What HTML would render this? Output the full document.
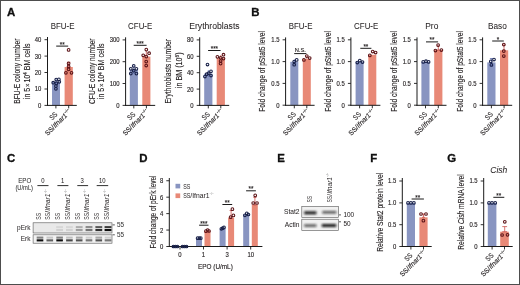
<!DOCTYPE html>
<html lang="en"><head><meta charset="utf-8"><title>Figure</title><style>html,body{margin:0;padding:0;background:#fff}svg{display:block}</style></head><body>
<svg width="520" height="285" viewBox="0 0 520 285" font-family="'Liberation Sans', sans-serif">
<rect x="0.00" y="0.00" width="520.00" height="285.00" fill="#ffffff"/>
<text transform="translate(7.00,16.00) scale(1.06,1)" font-size="10.8" text-anchor="start" fill="#111" stroke="#111" stroke-width="0.3" font-weight="bold">A</text>
<text transform="translate(251.30,16.00) scale(1.06,1)" font-size="10.8" text-anchor="start" fill="#111" stroke="#111" stroke-width="0.3" font-weight="bold">B</text>
<text transform="translate(7.00,161.70) scale(1.06,1)" font-size="10.8" text-anchor="start" fill="#111" stroke="#111" stroke-width="0.3" font-weight="bold">C</text>
<text transform="translate(139.30,161.70) scale(1.06,1)" font-size="10.8" text-anchor="start" fill="#111" stroke="#111" stroke-width="0.3" font-weight="bold">D</text>
<text transform="translate(277.30,161.70) scale(1.06,1)" font-size="10.8" text-anchor="start" fill="#111" stroke="#111" stroke-width="0.3" font-weight="bold">E</text>
<text transform="translate(370.20,161.70) scale(1.06,1)" font-size="10.8" text-anchor="start" fill="#111" stroke="#111" stroke-width="0.3" font-weight="bold">F</text>
<text transform="translate(447.20,162.00) scale(1.06,1)" font-size="10.8" text-anchor="start" fill="#111" stroke="#111" stroke-width="0.3" font-weight="bold">G</text>
<rect x="52.00" y="81.60" width="8.00" height="23.80" fill="#8995c1"/>
<rect x="64.60" y="67.00" width="8.20" height="38.40" fill="#e88977"/>
<line x1="56.00" y1="78.50" x2="56.00" y2="84.50" stroke="#5f6fae" stroke-width="0.8"/>
<line x1="56.00" y1="78.50" x2="56.00" y2="78.50" stroke="#5f6fae" stroke-width="0.8"/>
<line x1="68.70" y1="62.30" x2="68.70" y2="67.00" stroke="#c9524b" stroke-width="0.8"/>
<line x1="67.00" y1="62.30" x2="70.40" y2="62.30" stroke="#c9524b" stroke-width="0.8"/>
<line x1="67.00" y1="67.00" x2="70.40" y2="67.00" stroke="#c9524b" stroke-width="0.8"/>
<line x1="47.50" y1="37.00" x2="47.50" y2="105.90" stroke="#1a1a1a" stroke-width="1"/>
<line x1="47.00" y1="105.40" x2="76.80" y2="105.40" stroke="#1a1a1a" stroke-width="1"/>
<line x1="44.50" y1="39.70" x2="47.50" y2="39.70" stroke="#1a1a1a" stroke-width="0.9"/>
<text transform="translate(41.40,42.15) scale(0.87,1)" font-size="6.8" text-anchor="end" fill="#231f20" stroke="#231f20" stroke-width="0.14">40</text>
<line x1="44.50" y1="56.10" x2="47.50" y2="56.10" stroke="#1a1a1a" stroke-width="0.9"/>
<text transform="translate(41.40,58.55) scale(0.87,1)" font-size="6.8" text-anchor="end" fill="#231f20" stroke="#231f20" stroke-width="0.14">30</text>
<line x1="44.50" y1="72.50" x2="47.50" y2="72.50" stroke="#1a1a1a" stroke-width="0.9"/>
<text transform="translate(41.40,74.95) scale(0.87,1)" font-size="6.8" text-anchor="end" fill="#231f20" stroke="#231f20" stroke-width="0.14">20</text>
<line x1="44.50" y1="89.00" x2="47.50" y2="89.00" stroke="#1a1a1a" stroke-width="0.9"/>
<text transform="translate(41.40,91.45) scale(0.87,1)" font-size="6.8" text-anchor="end" fill="#231f20" stroke="#231f20" stroke-width="0.14">10</text>
<line x1="44.50" y1="105.40" x2="47.50" y2="105.40" stroke="#1a1a1a" stroke-width="0.9"/>
<text transform="translate(41.40,107.85) scale(0.87,1)" font-size="6.8" text-anchor="end" fill="#231f20" stroke="#231f20" stroke-width="0.14">0</text>
<line x1="55.90" y1="105.40" x2="55.90" y2="108.40" stroke="#1a1a1a" stroke-width="0.9"/>
<line x1="68.70" y1="105.40" x2="68.70" y2="108.40" stroke="#1a1a1a" stroke-width="0.9"/>
<circle cx="56.20" cy="79.60" r="1.35" fill="none" stroke="#182048" stroke-width="1.05"/>
<circle cx="58.90" cy="79.40" r="1.35" fill="none" stroke="#182048" stroke-width="1.05"/>
<circle cx="53.20" cy="82.70" r="1.35" fill="none" stroke="#182048" stroke-width="1.05"/>
<circle cx="59.30" cy="81.80" r="1.35" fill="none" stroke="#182048" stroke-width="1.05"/>
<circle cx="56.30" cy="83.40" r="1.35" fill="none" stroke="#182048" stroke-width="1.05"/>
<circle cx="55.90" cy="86.10" r="1.35" fill="none" stroke="#182048" stroke-width="1.05"/>
<circle cx="55.90" cy="88.80" r="1.35" fill="none" stroke="#182048" stroke-width="1.05"/>
<circle cx="68.60" cy="49.90" r="1.35" fill="none" stroke="#5c1418" stroke-width="1.05"/>
<circle cx="68.60" cy="63.40" r="1.35" fill="none" stroke="#5c1418" stroke-width="1.05"/>
<circle cx="68.60" cy="66.40" r="1.35" fill="none" stroke="#5c1418" stroke-width="1.05"/>
<circle cx="65.90" cy="72.80" r="1.35" fill="none" stroke="#5c1418" stroke-width="1.05"/>
<circle cx="71.50" cy="72.80" r="1.35" fill="none" stroke="#5c1418" stroke-width="1.05"/>
<circle cx="68.60" cy="69.30" r="1.35" fill="none" stroke="#5c1418" stroke-width="1.05"/>
<line x1="56.20" y1="46.10" x2="68.20" y2="46.10" stroke="#1a1a1a" stroke-width="1"/>
<text transform="translate(62.20,46.60) scale(0.9,1)" font-size="7" text-anchor="middle" fill="#231f20" stroke="#231f20" stroke-width="0.14">**</text>
<text transform="translate(62.60,28.50) scale(0.96,1)" font-size="8.25" text-anchor="middle" fill="#231f20" stroke="#231f20" stroke-width="0.04">BFU-E</text>
<text transform="translate(19.90,71.20) rotate(-90) scale(0.7632183908045977,1)" font-size="8.7" text-anchor="middle" fill="#231f20" stroke="#231f20" stroke-width="0.14">BFU-E colony number</text>
<text transform="translate(29.50,71.30) rotate(-90) scale(0.8137931034482759,1)" font-size="8.7" text-anchor="middle" fill="#231f20" stroke="#231f20" stroke-width="0.14">in 5<tspan font-size="85%" dx="1">×</tspan><tspan dx="1">10</tspan><tspan font-size="65%" dy="-2.8">4</tspan><tspan dy="2.8"> BM cells</tspan></text>
<text transform="translate(57.90,114.80) rotate(-45) scale(0.87,1)" font-size="7" text-anchor="end" fill="#231f20" stroke="#231f20" stroke-width="0.14">SS</text>
<text transform="translate(71.50,112.20) rotate(-45) scale(0.97,1)" font-size="7" text-anchor="end" fill="#231f20" stroke="#231f20" stroke-width="0.14">SS/<tspan font-style="italic">Ifnar1</tspan><tspan font-size="55%" dy="-3" fill="#222">−/−</tspan></text>
<rect x="129.80" y="69.70" width="8.10" height="35.70" fill="#8995c1"/>
<rect x="142.30" y="56.60" width="8.10" height="48.80" fill="#e88977"/>
<line x1="133.80" y1="65.50" x2="133.80" y2="74.00" stroke="#5f6fae" stroke-width="0.8"/>
<line x1="133.80" y1="65.50" x2="133.80" y2="65.50" stroke="#5f6fae" stroke-width="0.8"/>
<line x1="146.30" y1="51.00" x2="146.30" y2="56.60" stroke="#c9524b" stroke-width="0.8"/>
<line x1="146.30" y1="51.00" x2="146.30" y2="51.00" stroke="#c9524b" stroke-width="0.8"/>
<line x1="125.60" y1="37.30" x2="125.60" y2="105.90" stroke="#1a1a1a" stroke-width="1"/>
<line x1="125.10" y1="105.40" x2="155.20" y2="105.40" stroke="#1a1a1a" stroke-width="1"/>
<line x1="122.60" y1="39.90" x2="125.60" y2="39.90" stroke="#1a1a1a" stroke-width="0.9"/>
<text transform="translate(119.50,42.35) scale(0.87,1)" font-size="6.8" text-anchor="end" fill="#231f20" stroke="#231f20" stroke-width="0.14">300</text>
<line x1="122.60" y1="61.70" x2="125.60" y2="61.70" stroke="#1a1a1a" stroke-width="0.9"/>
<text transform="translate(119.50,64.15) scale(0.87,1)" font-size="6.8" text-anchor="end" fill="#231f20" stroke="#231f20" stroke-width="0.14">200</text>
<line x1="122.60" y1="83.50" x2="125.60" y2="83.50" stroke="#1a1a1a" stroke-width="0.9"/>
<text transform="translate(119.50,85.95) scale(0.87,1)" font-size="6.8" text-anchor="end" fill="#231f20" stroke="#231f20" stroke-width="0.14">100</text>
<line x1="122.60" y1="105.40" x2="125.60" y2="105.40" stroke="#1a1a1a" stroke-width="0.9"/>
<text transform="translate(119.50,107.85) scale(0.87,1)" font-size="6.8" text-anchor="end" fill="#231f20" stroke="#231f20" stroke-width="0.14">0</text>
<line x1="133.80" y1="105.40" x2="133.80" y2="108.40" stroke="#1a1a1a" stroke-width="0.9"/>
<line x1="146.40" y1="105.40" x2="146.40" y2="108.40" stroke="#1a1a1a" stroke-width="0.9"/>
<circle cx="130.80" cy="68.80" r="1.35" fill="none" stroke="#182048" stroke-width="1.05"/>
<circle cx="136.40" cy="68.80" r="1.35" fill="none" stroke="#182048" stroke-width="1.05"/>
<circle cx="133.70" cy="65.90" r="1.35" fill="none" stroke="#182048" stroke-width="1.05"/>
<circle cx="130.80" cy="73.60" r="1.35" fill="none" stroke="#182048" stroke-width="1.05"/>
<circle cx="136.40" cy="73.60" r="1.35" fill="none" stroke="#182048" stroke-width="1.05"/>
<circle cx="133.70" cy="70.70" r="1.35" fill="none" stroke="#182048" stroke-width="1.05"/>
<circle cx="146.30" cy="49.60" r="1.35" fill="none" stroke="#5c1418" stroke-width="1.05"/>
<circle cx="149.10" cy="53.20" r="1.35" fill="none" stroke="#5c1418" stroke-width="1.05"/>
<circle cx="143.20" cy="55.30" r="1.35" fill="none" stroke="#5c1418" stroke-width="1.05"/>
<circle cx="146.30" cy="56.60" r="1.35" fill="none" stroke="#5c1418" stroke-width="1.05"/>
<circle cx="146.20" cy="61.60" r="1.35" fill="none" stroke="#5c1418" stroke-width="1.05"/>
<circle cx="146.20" cy="65.50" r="1.35" fill="none" stroke="#5c1418" stroke-width="1.05"/>
<line x1="133.70" y1="45.30" x2="146.60" y2="45.30" stroke="#1a1a1a" stroke-width="1"/>
<text transform="translate(140.15,45.80) scale(0.9,1)" font-size="7" text-anchor="middle" fill="#231f20" stroke="#231f20" stroke-width="0.14">***</text>
<text transform="translate(140.20,28.50) scale(0.96,1)" font-size="8.25" text-anchor="middle" fill="#231f20" stroke="#231f20" stroke-width="0.04">CFU-E</text>
<text transform="translate(94.70,71.20) rotate(-90) scale(0.7632183908045977,1)" font-size="8.7" text-anchor="middle" fill="#231f20" stroke="#231f20" stroke-width="0.14">CFU-E colony number</text>
<text transform="translate(104.30,71.30) rotate(-90) scale(0.8137931034482759,1)" font-size="8.7" text-anchor="middle" fill="#231f20" stroke="#231f20" stroke-width="0.14">in 5<tspan font-size="85%" dx="1">×</tspan><tspan dx="1">10</tspan><tspan font-size="65%" dy="-2.8">4</tspan><tspan dy="2.8"> BM cells</tspan></text>
<text transform="translate(135.80,114.80) rotate(-45) scale(0.87,1)" font-size="7" text-anchor="end" fill="#231f20" stroke="#231f20" stroke-width="0.14">SS</text>
<text transform="translate(149.20,112.20) rotate(-45) scale(0.97,1)" font-size="7" text-anchor="end" fill="#231f20" stroke="#231f20" stroke-width="0.14">SS/<tspan font-style="italic">Ifnar1</tspan><tspan font-size="55%" dy="-3" fill="#222">−/−</tspan></text>
<rect x="204.20" y="73.60" width="8.20" height="31.80" fill="#8995c1"/>
<rect x="216.70" y="58.20" width="8.20" height="47.20" fill="#e88977"/>
<line x1="208.30" y1="70.00" x2="208.30" y2="77.00" stroke="#5f6fae" stroke-width="0.8"/>
<line x1="208.30" y1="70.00" x2="208.30" y2="70.00" stroke="#5f6fae" stroke-width="0.8"/>
<line x1="220.80" y1="55.00" x2="220.80" y2="58.20" stroke="#c9524b" stroke-width="0.8"/>
<line x1="220.80" y1="55.00" x2="220.80" y2="55.00" stroke="#c9524b" stroke-width="0.8"/>
<line x1="199.70" y1="37.30" x2="199.70" y2="105.90" stroke="#1a1a1a" stroke-width="1"/>
<line x1="199.20" y1="105.40" x2="229.20" y2="105.40" stroke="#1a1a1a" stroke-width="1"/>
<line x1="196.70" y1="39.90" x2="199.70" y2="39.90" stroke="#1a1a1a" stroke-width="0.9"/>
<text transform="translate(193.60,42.35) scale(0.87,1)" font-size="6.8" text-anchor="end" fill="#231f20" stroke="#231f20" stroke-width="0.14">80</text>
<line x1="196.70" y1="56.30" x2="199.70" y2="56.30" stroke="#1a1a1a" stroke-width="0.9"/>
<text transform="translate(193.60,58.75) scale(0.87,1)" font-size="6.8" text-anchor="end" fill="#231f20" stroke="#231f20" stroke-width="0.14">60</text>
<line x1="196.70" y1="72.70" x2="199.70" y2="72.70" stroke="#1a1a1a" stroke-width="0.9"/>
<text transform="translate(193.60,75.15) scale(0.87,1)" font-size="6.8" text-anchor="end" fill="#231f20" stroke="#231f20" stroke-width="0.14">40</text>
<line x1="196.70" y1="89.10" x2="199.70" y2="89.10" stroke="#1a1a1a" stroke-width="0.9"/>
<text transform="translate(193.60,91.55) scale(0.87,1)" font-size="6.8" text-anchor="end" fill="#231f20" stroke="#231f20" stroke-width="0.14">20</text>
<line x1="196.70" y1="105.40" x2="199.70" y2="105.40" stroke="#1a1a1a" stroke-width="0.9"/>
<text transform="translate(193.60,107.85) scale(0.87,1)" font-size="6.8" text-anchor="end" fill="#231f20" stroke="#231f20" stroke-width="0.14">0</text>
<line x1="208.30" y1="105.40" x2="208.30" y2="108.40" stroke="#1a1a1a" stroke-width="0.9"/>
<line x1="220.80" y1="105.40" x2="220.80" y2="108.40" stroke="#1a1a1a" stroke-width="0.9"/>
<circle cx="207.50" cy="64.50" r="1.35" fill="none" stroke="#182048" stroke-width="1.05"/>
<circle cx="211.00" cy="71.30" r="1.35" fill="none" stroke="#182048" stroke-width="1.05"/>
<circle cx="206.70" cy="74.20" r="1.35" fill="none" stroke="#182048" stroke-width="1.05"/>
<circle cx="204.90" cy="76.50" r="1.35" fill="none" stroke="#182048" stroke-width="1.05"/>
<circle cx="211.00" cy="75.50" r="1.35" fill="none" stroke="#182048" stroke-width="1.05"/>
<circle cx="208.70" cy="73.20" r="1.35" fill="none" stroke="#182048" stroke-width="1.05"/>
<circle cx="223.50" cy="54.70" r="1.35" fill="none" stroke="#5c1418" stroke-width="1.05"/>
<circle cx="217.40" cy="56.80" r="1.35" fill="none" stroke="#5c1418" stroke-width="1.05"/>
<circle cx="220.60" cy="57.80" r="1.35" fill="none" stroke="#5c1418" stroke-width="1.05"/>
<circle cx="223.50" cy="58.60" r="1.35" fill="none" stroke="#5c1418" stroke-width="1.05"/>
<circle cx="220.60" cy="61.00" r="1.35" fill="none" stroke="#5c1418" stroke-width="1.05"/>
<circle cx="220.60" cy="63.60" r="1.35" fill="none" stroke="#5c1418" stroke-width="1.05"/>
<line x1="208.10" y1="50.50" x2="220.60" y2="50.50" stroke="#1a1a1a" stroke-width="1"/>
<text transform="translate(214.35,51.00) scale(0.9,1)" font-size="7" text-anchor="middle" fill="#231f20" stroke="#231f20" stroke-width="0.14">***</text>
<text transform="translate(214.40,28.50) scale(1.05,1)" font-size="8.25" text-anchor="middle" fill="#231f20" stroke="#231f20" stroke-width="0.04">Erythroblasts</text>
<text transform="translate(171.30,71.20) rotate(-90) scale(0.7816091954022989,1)" font-size="8.7" text-anchor="middle" fill="#231f20" stroke="#231f20" stroke-width="0.14">Erythroblasts number</text>
<text transform="translate(181.50,70.30) rotate(-90) scale(0.8275862068965518,1)" font-size="8.7" text-anchor="middle" fill="#231f20" stroke="#231f20" stroke-width="0.14">in BM (10<tspan font-size="65%" dy="-2.8">6</tspan><tspan dy="2.8">)</tspan></text>
<text transform="translate(210.30,114.80) rotate(-45) scale(0.87,1)" font-size="7" text-anchor="end" fill="#231f20" stroke="#231f20" stroke-width="0.14">SS</text>
<text transform="translate(223.60,112.20) rotate(-45) scale(0.97,1)" font-size="7" text-anchor="end" fill="#231f20" stroke="#231f20" stroke-width="0.14">SS/<tspan font-style="italic">Ifnar1</tspan><tspan font-size="55%" dy="-3" fill="#222">−/−</tspan></text>
<rect x="290.30" y="61.80" width="8.00" height="43.50" fill="#8995c1"/>
<rect x="302.80" y="59.00" width="8.00" height="46.30" fill="#e88977"/>
<line x1="294.40" y1="59.50" x2="294.40" y2="64.50" stroke="#5f6fae" stroke-width="0.8"/>
<line x1="294.40" y1="59.50" x2="294.40" y2="59.50" stroke="#5f6fae" stroke-width="0.8"/>
<line x1="306.90" y1="56.50" x2="306.90" y2="59.00" stroke="#c9524b" stroke-width="0.8"/>
<line x1="306.90" y1="56.50" x2="306.90" y2="56.50" stroke="#c9524b" stroke-width="0.8"/>
<line x1="285.60" y1="37.40" x2="285.60" y2="105.80" stroke="#1a1a1a" stroke-width="1"/>
<line x1="285.10" y1="105.30" x2="314.60" y2="105.30" stroke="#1a1a1a" stroke-width="1"/>
<line x1="282.60" y1="39.80" x2="285.60" y2="39.80" stroke="#1a1a1a" stroke-width="0.9"/>
<text transform="translate(279.50,42.25) scale(0.87,1)" font-size="6.8" text-anchor="end" fill="#231f20" stroke="#231f20" stroke-width="0.14">1.5</text>
<line x1="282.60" y1="61.60" x2="285.60" y2="61.60" stroke="#1a1a1a" stroke-width="0.9"/>
<text transform="translate(279.50,64.05) scale(0.87,1)" font-size="6.8" text-anchor="end" fill="#231f20" stroke="#231f20" stroke-width="0.14">1.0</text>
<line x1="282.60" y1="83.40" x2="285.60" y2="83.40" stroke="#1a1a1a" stroke-width="0.9"/>
<text transform="translate(279.50,85.85) scale(0.87,1)" font-size="6.8" text-anchor="end" fill="#231f20" stroke="#231f20" stroke-width="0.14">0.5</text>
<line x1="282.60" y1="105.20" x2="285.60" y2="105.20" stroke="#1a1a1a" stroke-width="0.9"/>
<text transform="translate(279.50,107.65) scale(0.87,1)" font-size="6.8" text-anchor="end" fill="#231f20" stroke="#231f20" stroke-width="0.14">0</text>
<line x1="294.30" y1="105.30" x2="294.30" y2="108.30" stroke="#1a1a1a" stroke-width="0.9"/>
<line x1="306.80" y1="105.30" x2="306.80" y2="108.30" stroke="#1a1a1a" stroke-width="0.9"/>
<circle cx="296.70" cy="59.90" r="1.35" fill="none" stroke="#182048" stroke-width="1.05"/>
<circle cx="294.20" cy="61.50" r="1.35" fill="none" stroke="#182048" stroke-width="1.05"/>
<circle cx="294.20" cy="64.70" r="1.35" fill="none" stroke="#182048" stroke-width="1.05"/>
<circle cx="306.80" cy="56.00" r="1.35" fill="none" stroke="#5c1418" stroke-width="1.05"/>
<circle cx="309.70" cy="58.00" r="1.35" fill="none" stroke="#5c1418" stroke-width="1.05"/>
<circle cx="303.90" cy="59.90" r="1.35" fill="none" stroke="#5c1418" stroke-width="1.05"/>
<line x1="294.20" y1="53.60" x2="306.40" y2="53.60" stroke="#1a1a1a" stroke-width="1"/>
<text transform="translate(300.30,52.00) scale(0.93,1)" font-size="6.2" text-anchor="middle" fill="#231f20" stroke="#231f20" stroke-width="0.14">N.S.</text>
<text transform="translate(300.60,28.50) scale(0.96,1)" font-size="8.25" text-anchor="middle" fill="#231f20" stroke="#231f20" stroke-width="0.04">BFU-E</text>
<text transform="translate(265.30,71.40) rotate(-90) scale(0.767816091954023,1)" font-size="8.7" text-anchor="middle" fill="#231f20" stroke="#231f20" stroke-width="0.14">Fold change of pStat5 level</text>
<text transform="translate(296.30,114.70) rotate(-45) scale(0.87,1)" font-size="7" text-anchor="end" fill="#231f20" stroke="#231f20" stroke-width="0.14">SS</text>
<text transform="translate(309.60,112.10) rotate(-45) scale(0.97,1)" font-size="7" text-anchor="end" fill="#231f20" stroke="#231f20" stroke-width="0.14">SS/<tspan font-style="italic">Ifnar1</tspan><tspan font-size="55%" dy="-3" fill="#222">−/−</tspan></text>
<rect x="355.60" y="61.80" width="8.00" height="43.50" fill="#8995c1"/>
<rect x="368.30" y="54.80" width="8.00" height="50.50" fill="#e88977"/>
<line x1="350.90" y1="37.40" x2="350.90" y2="105.80" stroke="#1a1a1a" stroke-width="1"/>
<line x1="350.40" y1="105.30" x2="380.40" y2="105.30" stroke="#1a1a1a" stroke-width="1"/>
<line x1="347.90" y1="39.80" x2="350.90" y2="39.80" stroke="#1a1a1a" stroke-width="0.9"/>
<text transform="translate(344.80,42.25) scale(0.87,1)" font-size="6.8" text-anchor="end" fill="#231f20" stroke="#231f20" stroke-width="0.14">1.5</text>
<line x1="347.90" y1="61.60" x2="350.90" y2="61.60" stroke="#1a1a1a" stroke-width="0.9"/>
<text transform="translate(344.80,64.05) scale(0.87,1)" font-size="6.8" text-anchor="end" fill="#231f20" stroke="#231f20" stroke-width="0.14">1.0</text>
<line x1="347.90" y1="83.40" x2="350.90" y2="83.40" stroke="#1a1a1a" stroke-width="0.9"/>
<text transform="translate(344.80,85.85) scale(0.87,1)" font-size="6.8" text-anchor="end" fill="#231f20" stroke="#231f20" stroke-width="0.14">0.5</text>
<line x1="347.90" y1="105.20" x2="350.90" y2="105.20" stroke="#1a1a1a" stroke-width="0.9"/>
<text transform="translate(344.80,107.65) scale(0.87,1)" font-size="6.8" text-anchor="end" fill="#231f20" stroke="#231f20" stroke-width="0.14">0</text>
<line x1="359.60" y1="105.30" x2="359.60" y2="108.30" stroke="#1a1a1a" stroke-width="0.9"/>
<line x1="372.30" y1="105.30" x2="372.30" y2="108.30" stroke="#1a1a1a" stroke-width="0.9"/>
<circle cx="359.80" cy="60.60" r="1.35" fill="none" stroke="#182048" stroke-width="1.05"/>
<circle cx="357.30" cy="62.50" r="1.35" fill="none" stroke="#182048" stroke-width="1.05"/>
<circle cx="362.50" cy="62.10" r="1.35" fill="none" stroke="#182048" stroke-width="1.05"/>
<circle cx="372.70" cy="51.50" r="1.35" fill="none" stroke="#5c1418" stroke-width="1.05"/>
<circle cx="375.60" cy="52.50" r="1.35" fill="none" stroke="#5c1418" stroke-width="1.05"/>
<circle cx="369.80" cy="55.40" r="1.35" fill="none" stroke="#5c1418" stroke-width="1.05"/>
<line x1="360.30" y1="48.30" x2="371.40" y2="48.30" stroke="#1a1a1a" stroke-width="1"/>
<text transform="translate(365.85,48.80) scale(0.9,1)" font-size="7" text-anchor="middle" fill="#231f20" stroke="#231f20" stroke-width="0.14">**</text>
<text transform="translate(366.20,28.50) scale(0.96,1)" font-size="8.25" text-anchor="middle" fill="#231f20" stroke="#231f20" stroke-width="0.04">CFU-E</text>
<text transform="translate(330.90,71.40) rotate(-90) scale(0.767816091954023,1)" font-size="8.7" text-anchor="middle" fill="#231f20" stroke="#231f20" stroke-width="0.14">Fold change of pStat5 level</text>
<text transform="translate(361.60,114.70) rotate(-45) scale(0.87,1)" font-size="7" text-anchor="end" fill="#231f20" stroke="#231f20" stroke-width="0.14">SS</text>
<text transform="translate(375.10,112.10) rotate(-45) scale(0.97,1)" font-size="7" text-anchor="end" fill="#231f20" stroke="#231f20" stroke-width="0.14">SS/<tspan font-style="italic">Ifnar1</tspan><tspan font-size="55%" dy="-3" fill="#222">−/−</tspan></text>
<rect x="421.40" y="61.80" width="8.10" height="43.50" fill="#8995c1"/>
<rect x="434.20" y="50.00" width="8.20" height="55.30" fill="#e88977"/>
<line x1="438.30" y1="46.00" x2="438.30" y2="50.00" stroke="#c9524b" stroke-width="0.8"/>
<line x1="436.80" y1="46.00" x2="439.80" y2="46.00" stroke="#c9524b" stroke-width="0.8"/>
<line x1="436.80" y1="50.00" x2="439.80" y2="50.00" stroke="#c9524b" stroke-width="0.8"/>
<line x1="417.00" y1="37.40" x2="417.00" y2="105.80" stroke="#1a1a1a" stroke-width="1"/>
<line x1="416.50" y1="105.30" x2="446.50" y2="105.30" stroke="#1a1a1a" stroke-width="1"/>
<line x1="414.00" y1="39.80" x2="417.00" y2="39.80" stroke="#1a1a1a" stroke-width="0.9"/>
<text transform="translate(410.90,42.25) scale(0.87,1)" font-size="6.8" text-anchor="end" fill="#231f20" stroke="#231f20" stroke-width="0.14">1.5</text>
<line x1="414.00" y1="61.60" x2="417.00" y2="61.60" stroke="#1a1a1a" stroke-width="0.9"/>
<text transform="translate(410.90,64.05) scale(0.87,1)" font-size="6.8" text-anchor="end" fill="#231f20" stroke="#231f20" stroke-width="0.14">1.0</text>
<line x1="414.00" y1="83.40" x2="417.00" y2="83.40" stroke="#1a1a1a" stroke-width="0.9"/>
<text transform="translate(410.90,85.85) scale(0.87,1)" font-size="6.8" text-anchor="end" fill="#231f20" stroke="#231f20" stroke-width="0.14">0.5</text>
<line x1="414.00" y1="105.20" x2="417.00" y2="105.20" stroke="#1a1a1a" stroke-width="0.9"/>
<text transform="translate(410.90,107.65) scale(0.87,1)" font-size="6.8" text-anchor="end" fill="#231f20" stroke="#231f20" stroke-width="0.14">0</text>
<line x1="425.50" y1="105.30" x2="425.50" y2="108.30" stroke="#1a1a1a" stroke-width="0.9"/>
<line x1="438.30" y1="105.30" x2="438.30" y2="108.30" stroke="#1a1a1a" stroke-width="0.9"/>
<circle cx="423.20" cy="61.90" r="1.35" fill="none" stroke="#182048" stroke-width="1.05"/>
<circle cx="426.00" cy="61.20" r="1.35" fill="none" stroke="#182048" stroke-width="1.05"/>
<circle cx="428.60" cy="61.90" r="1.35" fill="none" stroke="#182048" stroke-width="1.05"/>
<circle cx="438.10" cy="45.10" r="1.35" fill="none" stroke="#5c1418" stroke-width="1.05"/>
<circle cx="435.40" cy="50.50" r="1.35" fill="none" stroke="#5c1418" stroke-width="1.05"/>
<circle cx="441.40" cy="50.00" r="1.35" fill="none" stroke="#5c1418" stroke-width="1.05"/>
<line x1="426.00" y1="41.90" x2="438.10" y2="41.90" stroke="#1a1a1a" stroke-width="1"/>
<text transform="translate(432.05,42.40) scale(0.9,1)" font-size="7" text-anchor="middle" fill="#231f20" stroke="#231f20" stroke-width="0.14">**</text>
<text transform="translate(431.80,28.50) scale(1.02,1)" font-size="8.25" text-anchor="middle" fill="#231f20" stroke="#231f20" stroke-width="0.04">Pro</text>
<text transform="translate(397.00,71.40) rotate(-90) scale(0.767816091954023,1)" font-size="8.7" text-anchor="middle" fill="#231f20" stroke="#231f20" stroke-width="0.14">Fold change of pStat5 level</text>
<text transform="translate(427.50,114.70) rotate(-45) scale(0.87,1)" font-size="7" text-anchor="end" fill="#231f20" stroke="#231f20" stroke-width="0.14">SS</text>
<text transform="translate(441.10,112.10) rotate(-45) scale(0.97,1)" font-size="7" text-anchor="end" fill="#231f20" stroke="#231f20" stroke-width="0.14">SS/<tspan font-style="italic">Ifnar1</tspan><tspan font-size="55%" dy="-3" fill="#222">−/−</tspan></text>
<rect x="487.30" y="62.40" width="8.20" height="42.90" fill="#8995c1"/>
<rect x="500.00" y="50.30" width="8.20" height="55.00" fill="#e88977"/>
<line x1="491.40" y1="58.50" x2="491.40" y2="66.00" stroke="#5f6fae" stroke-width="0.8"/>
<line x1="489.90" y1="58.50" x2="492.90" y2="58.50" stroke="#5f6fae" stroke-width="0.8"/>
<line x1="489.90" y1="66.00" x2="492.90" y2="66.00" stroke="#5f6fae" stroke-width="0.8"/>
<line x1="504.00" y1="45.00" x2="504.00" y2="50.30" stroke="#c9524b" stroke-width="0.8"/>
<line x1="502.50" y1="45.00" x2="505.50" y2="45.00" stroke="#c9524b" stroke-width="0.8"/>
<line x1="502.50" y1="50.30" x2="505.50" y2="50.30" stroke="#c9524b" stroke-width="0.8"/>
<line x1="482.60" y1="37.40" x2="482.60" y2="105.80" stroke="#1a1a1a" stroke-width="1"/>
<line x1="482.10" y1="105.30" x2="512.20" y2="105.30" stroke="#1a1a1a" stroke-width="1"/>
<line x1="479.60" y1="39.80" x2="482.60" y2="39.80" stroke="#1a1a1a" stroke-width="0.9"/>
<text transform="translate(476.50,42.25) scale(0.87,1)" font-size="6.8" text-anchor="end" fill="#231f20" stroke="#231f20" stroke-width="0.14">1.5</text>
<line x1="479.60" y1="61.60" x2="482.60" y2="61.60" stroke="#1a1a1a" stroke-width="0.9"/>
<text transform="translate(476.50,64.05) scale(0.87,1)" font-size="6.8" text-anchor="end" fill="#231f20" stroke="#231f20" stroke-width="0.14">1.0</text>
<line x1="479.60" y1="83.40" x2="482.60" y2="83.40" stroke="#1a1a1a" stroke-width="0.9"/>
<text transform="translate(476.50,85.85) scale(0.87,1)" font-size="6.8" text-anchor="end" fill="#231f20" stroke="#231f20" stroke-width="0.14">0.5</text>
<line x1="479.60" y1="105.20" x2="482.60" y2="105.20" stroke="#1a1a1a" stroke-width="0.9"/>
<text transform="translate(476.50,107.65) scale(0.87,1)" font-size="6.8" text-anchor="end" fill="#231f20" stroke="#231f20" stroke-width="0.14">0</text>
<line x1="491.40" y1="105.30" x2="491.40" y2="108.30" stroke="#1a1a1a" stroke-width="0.9"/>
<line x1="504.10" y1="105.30" x2="504.10" y2="108.30" stroke="#1a1a1a" stroke-width="0.9"/>
<circle cx="494.00" cy="59.50" r="1.35" fill="none" stroke="#182048" stroke-width="1.05"/>
<circle cx="490.80" cy="61.40" r="1.35" fill="none" stroke="#182048" stroke-width="1.05"/>
<circle cx="491.40" cy="64.90" r="1.35" fill="none" stroke="#182048" stroke-width="1.05"/>
<circle cx="503.80" cy="44.60" r="1.35" fill="none" stroke="#5c1418" stroke-width="1.05"/>
<circle cx="503.80" cy="51.10" r="1.35" fill="none" stroke="#5c1418" stroke-width="1.05"/>
<circle cx="503.80" cy="56.00" r="1.35" fill="none" stroke="#5c1418" stroke-width="1.05"/>
<line x1="492.20" y1="41.00" x2="503.80" y2="41.00" stroke="#1a1a1a" stroke-width="1"/>
<text transform="translate(498.00,41.50) scale(0.9,1)" font-size="7" text-anchor="middle" fill="#231f20" stroke="#231f20" stroke-width="0.14">*</text>
<text transform="translate(497.40,28.50)" font-size="8.25" text-anchor="middle" fill="#231f20" stroke="#231f20" stroke-width="0.04">Baso</text>
<text transform="translate(463.20,71.40) rotate(-90) scale(0.767816091954023,1)" font-size="8.7" text-anchor="middle" fill="#231f20" stroke="#231f20" stroke-width="0.14">Fold change of pStat5 level</text>
<text transform="translate(493.40,114.70) rotate(-45) scale(0.87,1)" font-size="7" text-anchor="end" fill="#231f20" stroke="#231f20" stroke-width="0.14">SS</text>
<text transform="translate(506.90,112.10) rotate(-45) scale(0.97,1)" font-size="7" text-anchor="end" fill="#231f20" stroke="#231f20" stroke-width="0.14">SS/<tspan font-style="italic">Ifnar1</tspan><tspan font-size="55%" dy="-3" fill="#222">−/−</tspan></text>
<text transform="translate(24.70,182.80) scale(0.91,1)" font-size="6.8" text-anchor="middle" fill="#2b2b2b" stroke="#2b2b2b" stroke-width="0.03">EPO</text>
<text transform="translate(24.20,189.90) scale(0.85,1)" font-size="6.8" text-anchor="middle" fill="#2b2b2b" stroke="#2b2b2b" stroke-width="0.03">(U/mL)</text>
<text transform="translate(42.90,182.80) scale(0.87,1)" font-size="6.8" text-anchor="middle" fill="#231f20" stroke="#231f20" stroke-width="0.03">0</text>
<line x1="37.40" y1="185.60" x2="48.50" y2="185.60" stroke="#1a1a1a" stroke-width="0.9"/>
<text transform="translate(62.60,182.80) scale(0.87,1)" font-size="6.8" text-anchor="middle" fill="#231f20" stroke="#231f20" stroke-width="0.03">1</text>
<line x1="57.40" y1="185.60" x2="68.40" y2="185.60" stroke="#1a1a1a" stroke-width="0.9"/>
<text transform="translate(82.20,182.80) scale(0.87,1)" font-size="6.8" text-anchor="middle" fill="#231f20" stroke="#231f20" stroke-width="0.03">3</text>
<line x1="77.30" y1="185.60" x2="88.10" y2="185.60" stroke="#1a1a1a" stroke-width="0.9"/>
<text transform="translate(102.30,182.80) scale(0.87,1)" font-size="6.8" text-anchor="middle" fill="#231f20" stroke="#231f20" stroke-width="0.03">10</text>
<line x1="96.70" y1="185.60" x2="108.20" y2="185.60" stroke="#1a1a1a" stroke-width="0.9"/>
<g transform="translate(40.50,219.80) rotate(-90)" font-size="7.8" fill="#231f20">
<text transform="scale(0.66,1)">SS</text>
</g>
<g transform="translate(50.10,219.80) rotate(-90)" font-size="7.8" fill="#231f20">
<text transform="scale(0.66,1)">SS</text>
<text transform="translate(7.07,0) scale(0.87,1)">/<tspan font-style="italic">Ifnar1</tspan><tspan font-size="45%" dy="-3" fill="#666">−/−</tspan></text>
</g>
<g transform="translate(60.20,219.80) rotate(-90)" font-size="7.8" fill="#231f20">
<text transform="scale(0.66,1)">SS</text>
</g>
<g transform="translate(69.80,219.80) rotate(-90)" font-size="7.8" fill="#231f20">
<text transform="scale(0.66,1)">SS</text>
<text transform="translate(7.07,0) scale(0.87,1)">/<tspan font-style="italic">Ifnar1</tspan><tspan font-size="45%" dy="-3" fill="#666">−/−</tspan></text>
</g>
<g transform="translate(79.80,219.80) rotate(-90)" font-size="7.8" fill="#231f20">
<text transform="scale(0.66,1)">SS</text>
</g>
<g transform="translate(89.40,219.80) rotate(-90)" font-size="7.8" fill="#231f20">
<text transform="scale(0.66,1)">SS</text>
<text transform="translate(7.07,0) scale(0.87,1)">/<tspan font-style="italic">Ifnar1</tspan><tspan font-size="45%" dy="-3" fill="#666">−/−</tspan></text>
</g>
<g transform="translate(99.20,219.80) rotate(-90)" font-size="7.8" fill="#231f20">
<text transform="scale(0.66,1)">SS</text>
</g>
<g transform="translate(108.80,219.80) rotate(-90)" font-size="7.8" fill="#231f20">
<text transform="scale(0.66,1)">SS</text>
<text transform="translate(7.07,0) scale(0.87,1)">/<tspan font-style="italic">Ifnar1</tspan><tspan font-size="45%" dy="-3" fill="#666">−/−</tspan></text>
</g>
<text transform="translate(30.40,230.20) scale(0.9,1)" font-size="7.2" text-anchor="end" fill="#231f20" stroke="#231f20" stroke-width="0.03">pErk</text>
<text transform="translate(30.40,241.00) scale(0.9,1)" font-size="7.2" text-anchor="end" fill="#231f20" stroke="#231f20" stroke-width="0.03">Erk</text>
<text transform="translate(117.00,227.30) scale(0.94,1)" font-size="6.8" text-anchor="start" fill="#333" stroke="#333" stroke-width="0.03">55</text>
<text transform="translate(117.00,237.20) scale(0.94,1)" font-size="6.8" text-anchor="start" fill="#333" stroke="#333" stroke-width="0.03">55</text>
<line x1="112.50" y1="224.90" x2="114.80" y2="224.90" stroke="#333" stroke-width="0.8"/>
<line x1="112.50" y1="234.80" x2="114.80" y2="234.80" stroke="#333" stroke-width="0.8"/>
<defs><filter id="bl" x="-20%" y="-100%" width="140%" height="300%"><feGaussianBlur stdDeviation="0.6 0.55"/></filter><filter id="bl2" x="-20%" y="-100%" width="140%" height="300%"><feGaussianBlur stdDeviation="1.3 0.8"/></filter></defs>
<rect x="33.10" y="222.80" width="78.90" height="10.20" fill="#e9e9e9" stroke="#555" stroke-width="0.6"/>
<rect x="33.10" y="234.80" width="78.90" height="8.40" fill="#f2f2f2" stroke="#555" stroke-width="0.6"/>
<g filter="url(#bl)">
<rect x="56.2" y="226.1" width="6.8" height="1.9" fill="#111" opacity="0.08"/>
<rect x="56.2" y="228.9" width="6.8" height="2.2" fill="#111" opacity="0.10"/>
<rect x="66.0" y="226.1" width="6.8" height="1.9" fill="#111" opacity="0.08"/>
<rect x="66.0" y="228.9" width="6.8" height="2.2" fill="#111" opacity="0.10"/>
<rect x="75.8" y="226.1" width="6.8" height="1.9" fill="#111" opacity="0.26"/>
<rect x="75.8" y="228.9" width="6.8" height="2.2" fill="#111" opacity="0.32"/>
<rect x="85.6" y="226.1" width="6.8" height="1.9" fill="#111" opacity="0.44"/>
<rect x="85.6" y="228.9" width="6.8" height="2.2" fill="#111" opacity="0.55"/>
<rect x="95.4" y="226.1" width="6.8" height="1.9" fill="#111" opacity="0.68"/>
<rect x="95.4" y="228.9" width="6.8" height="2.2" fill="#111" opacity="0.85"/>
<rect x="104.6" y="226.1" width="6.8" height="1.9" fill="#111" opacity="0.80"/>
<rect x="104.6" y="228.9" width="6.8" height="2.2" fill="#111" opacity="1.00"/>
<rect x="36.7" y="236.6" width="6.6" height="2.0" fill="#111" opacity="0.50"/>
<rect x="36.7" y="239.3" width="6.6" height="2.1" fill="#111" opacity="1.00"/>
<rect x="46.5" y="236.6" width="6.6" height="2.0" fill="#111" opacity="0.18"/>
<rect x="46.5" y="239.3" width="6.6" height="2.1" fill="#111" opacity="0.65"/>
<rect x="56.3" y="236.6" width="6.6" height="2.0" fill="#111" opacity="0.50"/>
<rect x="56.3" y="239.3" width="6.6" height="2.1" fill="#111" opacity="1.00"/>
<rect x="66.1" y="236.6" width="6.6" height="2.0" fill="#111" opacity="0.21"/>
<rect x="66.1" y="239.3" width="6.6" height="2.1" fill="#111" opacity="0.75"/>
<rect x="75.9" y="236.6" width="6.6" height="2.0" fill="#111" opacity="0.35"/>
<rect x="75.9" y="239.3" width="6.6" height="2.1" fill="#111" opacity="0.70"/>
<rect x="85.7" y="236.6" width="6.6" height="2.0" fill="#111" opacity="0.15"/>
<rect x="85.7" y="239.3" width="6.6" height="2.1" fill="#111" opacity="0.55"/>
<rect x="95.5" y="236.6" width="6.6" height="2.0" fill="#111" opacity="0.35"/>
<rect x="95.5" y="239.3" width="6.6" height="2.1" fill="#111" opacity="0.70"/>
<rect x="104.7" y="236.6" width="6.6" height="2.0" fill="#111" opacity="0.15"/>
<rect x="104.7" y="239.3" width="6.6" height="2.1" fill="#111" opacity="0.55"/>
</g>
<rect x="196.00" y="238.28" width="6.00" height="8.22" fill="#8995c1"/>
<rect x="204.50" y="230.88" width="6.00" height="15.62" fill="#e88977"/>
<rect x="219.60" y="228.83" width="6.00" height="17.67" fill="#8995c1"/>
<rect x="228.10" y="217.73" width="6.00" height="28.77" fill="#e88977"/>
<rect x="243.20" y="214.44" width="6.00" height="32.06" fill="#8995c1"/>
<rect x="251.80" y="204.58" width="6.00" height="41.92" fill="#e88977"/>
<line x1="231.10" y1="210.50" x2="231.10" y2="218.00" stroke="#c9524b" stroke-width="0.8"/>
<line x1="229.60" y1="210.50" x2="232.60" y2="210.50" stroke="#c9524b" stroke-width="0.8"/>
<line x1="229.60" y1="218.00" x2="232.60" y2="218.00" stroke="#c9524b" stroke-width="0.8"/>
<line x1="254.90" y1="197.50" x2="254.90" y2="205.00" stroke="#c9524b" stroke-width="0.8"/>
<line x1="253.40" y1="197.50" x2="256.40" y2="197.50" stroke="#c9524b" stroke-width="0.8"/>
<line x1="253.40" y1="205.00" x2="256.40" y2="205.00" stroke="#c9524b" stroke-width="0.8"/>
<line x1="169.30" y1="178.00" x2="169.30" y2="247.00" stroke="#1a1a1a" stroke-width="1"/>
<line x1="168.80" y1="246.50" x2="262.40" y2="246.50" stroke="#1a1a1a" stroke-width="1"/>
<line x1="166.30" y1="180.74" x2="169.30" y2="180.74" stroke="#1a1a1a" stroke-width="0.9"/>
<text transform="translate(163.20,183.19) scale(0.87,1)" font-size="6.8" text-anchor="end" fill="#231f20" stroke="#231f20" stroke-width="0.14">8</text>
<line x1="166.30" y1="197.18" x2="169.30" y2="197.18" stroke="#1a1a1a" stroke-width="0.9"/>
<text transform="translate(163.20,199.63) scale(0.87,1)" font-size="6.8" text-anchor="end" fill="#231f20" stroke="#231f20" stroke-width="0.14">6</text>
<line x1="166.30" y1="213.62" x2="169.30" y2="213.62" stroke="#1a1a1a" stroke-width="0.9"/>
<text transform="translate(163.20,216.07) scale(0.87,1)" font-size="6.8" text-anchor="end" fill="#231f20" stroke="#231f20" stroke-width="0.14">4</text>
<line x1="166.30" y1="230.06" x2="169.30" y2="230.06" stroke="#1a1a1a" stroke-width="0.9"/>
<text transform="translate(163.20,232.51) scale(0.87,1)" font-size="6.8" text-anchor="end" fill="#231f20" stroke="#231f20" stroke-width="0.14">2</text>
<line x1="166.30" y1="246.50" x2="169.30" y2="246.50" stroke="#1a1a1a" stroke-width="0.9"/>
<text transform="translate(163.20,248.95) scale(0.87,1)" font-size="6.8" text-anchor="end" fill="#231f20" stroke="#231f20" stroke-width="0.14">0</text>
<line x1="180.00" y1="246.50" x2="180.00" y2="249.50" stroke="#1a1a1a" stroke-width="0.9"/>
<line x1="203.50" y1="246.50" x2="203.50" y2="249.50" stroke="#1a1a1a" stroke-width="0.9"/>
<line x1="227.10" y1="246.50" x2="227.10" y2="249.50" stroke="#1a1a1a" stroke-width="0.9"/>
<line x1="250.70" y1="246.50" x2="250.70" y2="249.50" stroke="#1a1a1a" stroke-width="0.9"/>
<circle cx="173.40" cy="246.50" r="1.35" fill="none" stroke="#182048" stroke-width="1.05"/>
<circle cx="173.40" cy="246.50" r="1.3" fill="#182048" opacity="0.55"/>
<circle cx="175.40" cy="246.50" r="1.35" fill="none" stroke="#182048" stroke-width="1.05"/>
<circle cx="175.40" cy="246.50" r="1.3" fill="#182048" opacity="0.55"/>
<circle cx="177.40" cy="246.50" r="1.35" fill="none" stroke="#182048" stroke-width="1.05"/>
<circle cx="177.40" cy="246.50" r="1.3" fill="#182048" opacity="0.55"/>
<circle cx="182.50" cy="246.50" r="1.35" fill="none" stroke="#182048" stroke-width="1.05"/>
<circle cx="182.50" cy="246.50" r="1.3" fill="#182048" opacity="0.55"/>
<circle cx="184.50" cy="246.50" r="1.35" fill="none" stroke="#182048" stroke-width="1.05"/>
<circle cx="184.50" cy="246.50" r="1.3" fill="#182048" opacity="0.55"/>
<circle cx="186.50" cy="246.50" r="1.35" fill="none" stroke="#182048" stroke-width="1.05"/>
<circle cx="186.50" cy="246.50" r="1.3" fill="#182048" opacity="0.55"/>
<circle cx="197.60" cy="238.20" r="1.35" fill="none" stroke="#182048" stroke-width="1.05"/>
<circle cx="199.40" cy="238.20" r="1.35" fill="none" stroke="#182048" stroke-width="1.05"/>
<circle cx="200.80" cy="238.20" r="1.35" fill="none" stroke="#182048" stroke-width="1.05"/>
<circle cx="205.90" cy="231.20" r="1.35" fill="none" stroke="#5c1418" stroke-width="1.05"/>
<circle cx="207.60" cy="230.00" r="1.35" fill="none" stroke="#5c1418" stroke-width="1.05"/>
<circle cx="209.00" cy="231.00" r="1.35" fill="none" stroke="#5c1418" stroke-width="1.05"/>
<circle cx="221.40" cy="228.80" r="1.35" fill="none" stroke="#182048" stroke-width="1.05"/>
<circle cx="224.00" cy="227.40" r="1.35" fill="none" stroke="#182048" stroke-width="1.05"/>
<circle cx="222.70" cy="228.20" r="1.35" fill="none" stroke="#182048" stroke-width="1.05"/>
<circle cx="230.60" cy="217.20" r="1.35" fill="none" stroke="#5c1418" stroke-width="1.05"/>
<circle cx="233.40" cy="215.40" r="1.35" fill="none" stroke="#5c1418" stroke-width="1.05"/>
<circle cx="232.40" cy="209.20" r="1.35" fill="none" stroke="#5c1418" stroke-width="1.05"/>
<circle cx="244.90" cy="215.30" r="1.35" fill="none" stroke="#182048" stroke-width="1.05"/>
<circle cx="246.80" cy="213.40" r="1.35" fill="none" stroke="#182048" stroke-width="1.05"/>
<circle cx="248.40" cy="214.50" r="1.35" fill="none" stroke="#182048" stroke-width="1.05"/>
<circle cx="253.20" cy="203.00" r="1.35" fill="none" stroke="#5c1418" stroke-width="1.05"/>
<circle cx="257.00" cy="203.00" r="1.35" fill="none" stroke="#5c1418" stroke-width="1.05"/>
<circle cx="255.20" cy="195.40" r="1.35" fill="none" stroke="#5c1418" stroke-width="1.05"/>
<text transform="translate(156.30,212.00) rotate(-90) scale(0.7466666666666668,1)" font-size="8.7" text-anchor="middle" fill="#231f20" stroke="#231f20" stroke-width="0.14">Fold change of pErk level</text>
<line x1="199.10" y1="225.20" x2="208.50" y2="225.20" stroke="#1a1a1a" stroke-width="1"/>
<text transform="translate(203.80,225.70) scale(0.9,1)" font-size="7" text-anchor="middle" fill="#231f20" stroke="#231f20" stroke-width="0.14">***</text>
<line x1="222.40" y1="204.50" x2="232.20" y2="204.50" stroke="#1a1a1a" stroke-width="1"/>
<text transform="translate(227.30,205.00) scale(0.9,1)" font-size="7" text-anchor="middle" fill="#231f20" stroke="#231f20" stroke-width="0.14">**</text>
<line x1="246.10" y1="190.80" x2="255.90" y2="190.80" stroke="#1a1a1a" stroke-width="1"/>
<text transform="translate(251.00,191.30) scale(0.9,1)" font-size="7" text-anchor="middle" fill="#231f20" stroke="#231f20" stroke-width="0.14">**</text>
<text transform="translate(180.00,257.00) scale(0.87,1)" font-size="6.8" text-anchor="middle" fill="#231f20" stroke="#231f20" stroke-width="0.14">0</text>
<text transform="translate(203.50,257.00) scale(0.87,1)" font-size="6.8" text-anchor="middle" fill="#231f20" stroke="#231f20" stroke-width="0.14">1</text>
<text transform="translate(227.10,257.00) scale(0.87,1)" font-size="6.8" text-anchor="middle" fill="#231f20" stroke="#231f20" stroke-width="0.14">3</text>
<text transform="translate(250.70,257.00) scale(0.87,1)" font-size="6.8" text-anchor="middle" fill="#231f20" stroke="#231f20" stroke-width="0.14">10</text>
<text transform="translate(215.40,269.40) scale(0.8,1)" font-size="8" text-anchor="middle" fill="#231f20" stroke="#231f20" stroke-width="0.14">EPO (U/mL)</text>
<rect x="175.50" y="183.80" width="4.70" height="4.60" fill="#8995c1"/>
<rect x="175.50" y="193.40" width="4.70" height="4.70" fill="#e88977"/>
<text transform="translate(183.30,188.80) scale(0.74,1)" font-size="7.2" text-anchor="start" fill="#231f20" stroke="#231f20" stroke-width="0.02">SS</text>
<text transform="translate(183.30,198.30) scale(0.74,1)" font-size="7.2" text-anchor="start" fill="#231f20" stroke="#231f20" stroke-width="0.02">SS</text>
<text transform="translate(190.30,198.30) scale(0.94,1)" font-size="7.2" text-anchor="start" fill="#231f20" stroke="#231f20" stroke-width="0.02">/Ifnar1<tspan font-size="45%" dy="-3" fill="#777" stroke="none">−/−</tspan></text>
<g transform="translate(311.60,202.60) rotate(-90)" font-size="7.6" fill="#231f20">
<text transform="scale(0.66,1)">SS</text>
</g>
<g transform="translate(332.30,202.60) rotate(-90)" font-size="7.6" fill="#231f20">
<text transform="scale(0.66,1)">SS</text>
<text transform="translate(6.89,0) scale(0.87,1)">/<tspan font-style="italic">Ifnar1</tspan><tspan font-size="45%" dy="-3" fill="#666">−/−</tspan></text>
</g>
<text transform="translate(299.50,214.40) scale(0.98,1)" font-size="6.8" text-anchor="end" fill="#231f20" stroke="#231f20" stroke-width="0.03">Stat2</text>
<text transform="translate(299.50,227.30) scale(0.98,1)" font-size="6.8" text-anchor="end" fill="#231f20" stroke="#231f20" stroke-width="0.03">Actin</text>
<text transform="translate(343.40,217.40) scale(0.95,1)" font-size="6.8" text-anchor="start" fill="#231f20" stroke="#231f20" stroke-width="0.03">100</text>
<text transform="translate(343.40,225.50) scale(0.95,1)" font-size="6.8" text-anchor="start" fill="#231f20" stroke="#231f20" stroke-width="0.03">50</text>
<line x1="339.00" y1="214.90" x2="341.00" y2="214.90" stroke="#333" stroke-width="0.8"/>
<line x1="339.00" y1="221.80" x2="341.00" y2="221.80" stroke="#333" stroke-width="0.8"/>
<rect x="301.80" y="206.30" width="36.80" height="11.30" fill="#f1f1f1" stroke="#555" stroke-width="0.6"/>
<rect x="301.80" y="219.20" width="36.80" height="11.20" fill="#f1f1f1" stroke="#555" stroke-width="0.6"/>
<g filter="url(#bl2)">
<rect x="304.2" y="211.3" width="12.2" height="3.0" fill="#111" opacity="0.95"/>
<rect x="322.3" y="211.0" width="14" height="2.6" fill="#111" opacity="0.7"/>
<rect x="304.2" y="224.3" width="12.2" height="2.6" fill="#111" opacity="0.7"/>
<rect x="321.8" y="224.0" width="14.4" height="3.0" fill="#111" opacity="0.95"/>
</g>
<rect x="406.80" y="202.90" width="8.20" height="43.60" fill="#8995c1"/>
<rect x="419.40" y="217.30" width="8.20" height="29.20" fill="#e88977"/>
<line x1="423.50" y1="214.00" x2="423.50" y2="217.30" stroke="#c9524b" stroke-width="0.8"/>
<line x1="422.00" y1="214.00" x2="425.00" y2="214.00" stroke="#c9524b" stroke-width="0.8"/>
<line x1="422.00" y1="217.30" x2="425.00" y2="217.30" stroke="#c9524b" stroke-width="0.8"/>
<line x1="402.30" y1="178.00" x2="402.30" y2="247.00" stroke="#1a1a1a" stroke-width="1"/>
<line x1="401.80" y1="246.50" x2="431.70" y2="246.50" stroke="#1a1a1a" stroke-width="1"/>
<line x1="399.30" y1="181.00" x2="402.30" y2="181.00" stroke="#1a1a1a" stroke-width="0.9"/>
<text transform="translate(396.20,183.45) scale(0.87,1)" font-size="6.8" text-anchor="end" fill="#231f20" stroke="#231f20" stroke-width="0.14">1.5</text>
<line x1="399.30" y1="202.90" x2="402.30" y2="202.90" stroke="#1a1a1a" stroke-width="0.9"/>
<text transform="translate(396.20,205.35) scale(0.87,1)" font-size="6.8" text-anchor="end" fill="#231f20" stroke="#231f20" stroke-width="0.14">1.0</text>
<line x1="399.30" y1="224.70" x2="402.30" y2="224.70" stroke="#1a1a1a" stroke-width="0.9"/>
<text transform="translate(396.20,227.15) scale(0.87,1)" font-size="6.8" text-anchor="end" fill="#231f20" stroke="#231f20" stroke-width="0.14">0.5</text>
<line x1="399.30" y1="246.50" x2="402.30" y2="246.50" stroke="#1a1a1a" stroke-width="0.9"/>
<text transform="translate(396.20,248.95) scale(0.87,1)" font-size="6.8" text-anchor="end" fill="#231f20" stroke="#231f20" stroke-width="0.14">0</text>
<line x1="410.90" y1="246.50" x2="410.90" y2="249.50" stroke="#1a1a1a" stroke-width="0.9"/>
<line x1="423.50" y1="246.50" x2="423.50" y2="249.50" stroke="#1a1a1a" stroke-width="0.9"/>
<circle cx="408.00" cy="202.90" r="1.35" fill="none" stroke="#182048" stroke-width="1.05"/>
<circle cx="410.90" cy="202.90" r="1.35" fill="none" stroke="#182048" stroke-width="1.05"/>
<circle cx="413.90" cy="202.90" r="1.35" fill="none" stroke="#182048" stroke-width="1.05"/>
<circle cx="421.00" cy="214.00" r="1.35" fill="none" stroke="#5c1418" stroke-width="1.05"/>
<circle cx="426.00" cy="214.00" r="1.35" fill="none" stroke="#5c1418" stroke-width="1.05"/>
<circle cx="423.40" cy="220.70" r="1.35" fill="none" stroke="#5c1418" stroke-width="1.05"/>
<line x1="411.60" y1="199.00" x2="423.90" y2="199.00" stroke="#1a1a1a" stroke-width="1"/>
<text transform="translate(417.75,199.50) scale(0.9,1)" font-size="7" text-anchor="middle" fill="#231f20" stroke="#231f20" stroke-width="0.14">**</text>
<text transform="translate(382.70,212.30) rotate(-90) scale(0.7659770114942529,1)" font-size="8.7" text-anchor="middle" fill="#231f20" stroke="#231f20" stroke-width="0.14">Relative Stat2 protein level</text>
<text transform="translate(412.90,255.90) rotate(-45) scale(0.87,1)" font-size="7" text-anchor="end" fill="#231f20" stroke="#231f20" stroke-width="0.14">SS</text>
<text transform="translate(426.30,253.30) rotate(-45) scale(0.97,1)" font-size="7" text-anchor="end" fill="#231f20" stroke="#231f20" stroke-width="0.14">SS/<tspan font-style="italic">Ifnar1</tspan><tspan font-size="55%" dy="-3" fill="#222">−/−</tspan></text>
<rect x="487.80" y="202.90" width="8.60" height="43.60" fill="#8995c1"/>
<rect x="500.20" y="231.70" width="8.60" height="14.80" fill="#e88977"/>
<line x1="504.70" y1="226.60" x2="504.70" y2="231.70" stroke="#c9524b" stroke-width="0.8"/>
<line x1="502.30" y1="226.60" x2="507.10" y2="226.60" stroke="#c9524b" stroke-width="0.8"/>
<line x1="502.30" y1="231.70" x2="507.10" y2="231.70" stroke="#c9524b" stroke-width="0.8"/>
<line x1="483.70" y1="178.00" x2="483.70" y2="247.00" stroke="#1a1a1a" stroke-width="1"/>
<line x1="483.20" y1="246.50" x2="512.70" y2="246.50" stroke="#1a1a1a" stroke-width="1"/>
<line x1="480.70" y1="181.00" x2="483.70" y2="181.00" stroke="#1a1a1a" stroke-width="0.9"/>
<text transform="translate(477.60,183.45) scale(0.87,1)" font-size="6.8" text-anchor="end" fill="#231f20" stroke="#231f20" stroke-width="0.14">1.5</text>
<line x1="480.70" y1="202.90" x2="483.70" y2="202.90" stroke="#1a1a1a" stroke-width="0.9"/>
<text transform="translate(477.60,205.35) scale(0.87,1)" font-size="6.8" text-anchor="end" fill="#231f20" stroke="#231f20" stroke-width="0.14">1.0</text>
<line x1="480.70" y1="224.70" x2="483.70" y2="224.70" stroke="#1a1a1a" stroke-width="0.9"/>
<text transform="translate(477.60,227.15) scale(0.87,1)" font-size="6.8" text-anchor="end" fill="#231f20" stroke="#231f20" stroke-width="0.14">0.5</text>
<line x1="480.70" y1="246.50" x2="483.70" y2="246.50" stroke="#1a1a1a" stroke-width="0.9"/>
<text transform="translate(477.60,248.95) scale(0.87,1)" font-size="6.8" text-anchor="end" fill="#231f20" stroke="#231f20" stroke-width="0.14">0</text>
<line x1="492.10" y1="246.50" x2="492.10" y2="249.50" stroke="#1a1a1a" stroke-width="0.9"/>
<line x1="504.50" y1="246.50" x2="504.50" y2="249.50" stroke="#1a1a1a" stroke-width="0.9"/>
<circle cx="489.00" cy="202.90" r="1.35" fill="none" stroke="#182048" stroke-width="1.05"/>
<circle cx="492.00" cy="202.90" r="1.35" fill="none" stroke="#182048" stroke-width="1.05"/>
<circle cx="495.20" cy="202.90" r="1.35" fill="none" stroke="#182048" stroke-width="1.05"/>
<circle cx="504.80" cy="221.80" r="1.35" fill="none" stroke="#5c1418" stroke-width="1.05"/>
<circle cx="502.10" cy="235.00" r="1.35" fill="none" stroke="#5c1418" stroke-width="1.05"/>
<circle cx="507.50" cy="234.80" r="1.35" fill="none" stroke="#5c1418" stroke-width="1.05"/>
<line x1="493.30" y1="197.30" x2="504.30" y2="197.30" stroke="#1a1a1a" stroke-width="1"/>
<text transform="translate(498.80,197.80) scale(0.9,1)" font-size="7" text-anchor="middle" fill="#231f20" stroke="#231f20" stroke-width="0.14">**</text>
<text transform="translate(498.80,172.60) scale(0.98,1)" font-size="8.7" text-anchor="middle" fill="#231f20" stroke="#231f20" stroke-width="0.04" font-style="italic">Cish</text>
<text transform="translate(463.70,212.00) rotate(-90) scale(0.7613793103448276,1)" font-size="8.7" text-anchor="middle" fill="#231f20" stroke="#231f20" stroke-width="0.14">Relative <tspan font-style="italic">Cish</tspan> mRNA level</text>
<text transform="translate(494.10,255.90) rotate(-45) scale(0.87,1)" font-size="7" text-anchor="end" fill="#231f20" stroke="#231f20" stroke-width="0.14">SS</text>
<text transform="translate(507.30,253.30) rotate(-45) scale(0.97,1)" font-size="7" text-anchor="end" fill="#231f20" stroke="#231f20" stroke-width="0.14">SS/<tspan font-style="italic">Ifnar1</tspan><tspan font-size="55%" dy="-3" fill="#222">−/−</tspan></text>
<rect x="0.5" y="0.5" width="519" height="284" fill="none" stroke="#4d4d4d" stroke-width="1"/>
</svg>
</body></html>
